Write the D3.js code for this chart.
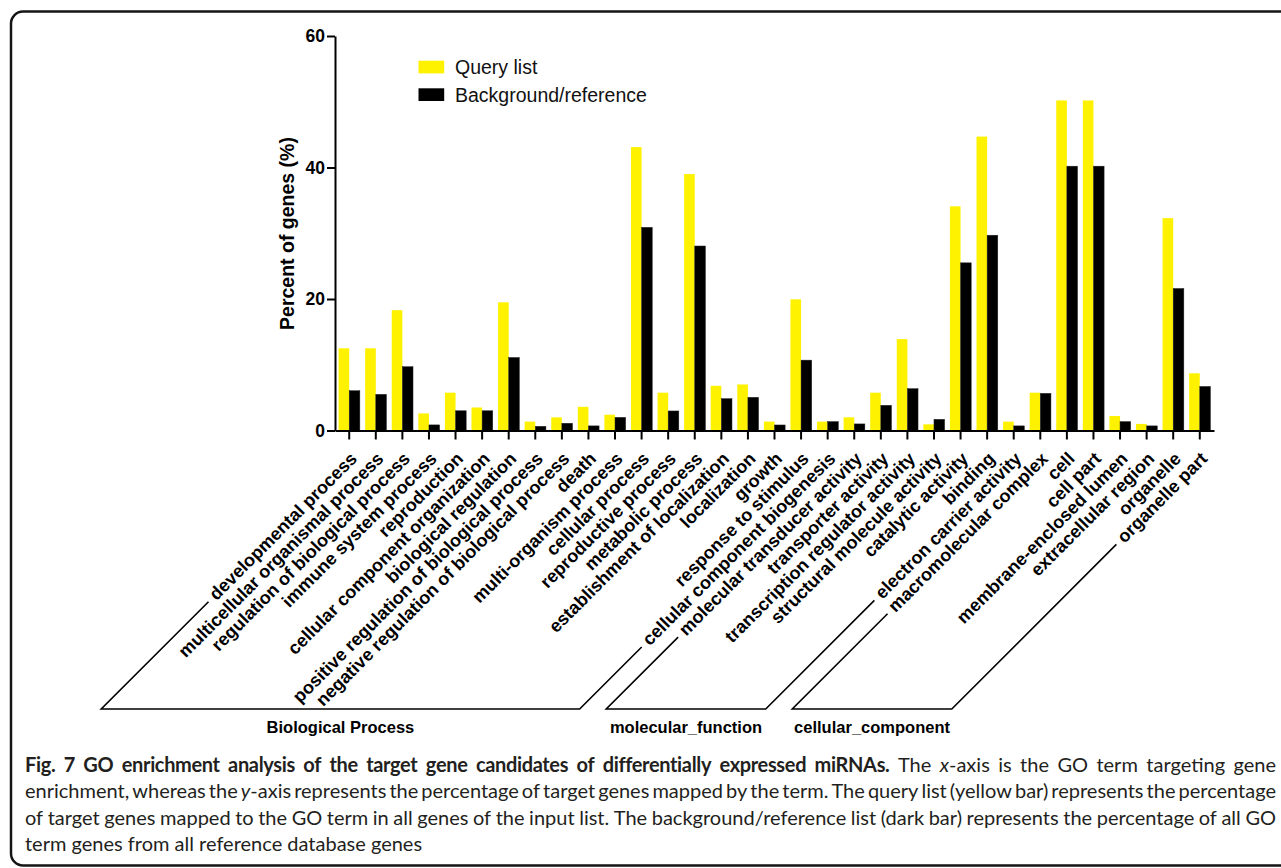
<!DOCTYPE html>
<html>
<head>
<meta charset="utf-8">
<script src="https://cdn.jsdelivr.net/npm/d3@7"></script>
<style>
  html, body { margin: 0; padding: 0; background: #fff; }
  svg { display: block; }
</style>
</head>
<body>
<svg id="fig" width="1281" height="868"></svg>
<script>
// GO terms, in plotting order
const categories = [
  "developmental process", "multicellular organismal process", "regulation of biological process",
  "immune system process", "reproduction", "cellular component organization", "biological regulation",
  "positive regulation of biological process", "negative regulation of biological process", "death",
  "multi-organism process", "cellular process", "reproductive process", "metabolic process",
  "establishment of localization", "localization", "growth", "response to stimulus",
  "cellular component biogenesis",
  "molecular transducer activity", "transporter activity", "transcription regulator activity",
  "structural molecule activity", "catalytic activity", "binding", "electron carrier activity",
  "macromolecular complex", "cell", "cell part", "membrane-enclosed lumen", "extracellular region",
  "organelle", "organelle part"
];

// Percent of genes (%) per term
const queryList = [
  12.5, 12.5, 18.3, 2.6, 5.75, 3.5, 19.5, 1.35, 2.0, 3.6, 2.4, 43.1, 5.75, 39.0, 6.8, 7.0, 1.35, 19.95, 1.35,
  2.0, 5.75, 13.9, 0.94, 34.1, 44.7, 1.35,
  5.75, 50.2, 50.2, 2.2, 1.0, 32.3, 8.7
];
const backgroundList = [
  6.05, 5.5, 9.7, 0.85, 3.0, 3.0, 11.1, 0.64, 1.1, 0.7, 2.0, 30.9, 2.97, 28.06, 4.84, 5.05, 0.84, 10.7, 1.35,
  1.0, 3.83, 6.36, 1.7, 25.5, 29.7, 0.7,
  5.65, 40.2, 40.2, 1.35, 0.7, 21.6, 6.7
];

const seriesNames = ["Query list", "Background/reference"];
const seriesColors = ["#fff200", "#000000"];
const yTicks = [0, 20, 40, 60];
const yTitle = "Percent of genes (%)";

// GO namespaces: name and first/last term index
const groupNames = ["Biological Process", "molecular_function", "cellular_component"];
const groupFirst = [0, 19, 26];
const groupLast = [18, 25, 32];

const captionLines = [
  "**Fig. 7 GO enrichment analysis of the target gene candidates of differentially expressed miRNAs.** The _x_-axis is the GO term targeting gene",
  "enrichment, whereas the _y_-axis represents the percentage of target genes mapped by the term. The query list (yellow bar) represents the percentage",
  "of target genes mapped to the GO term in all genes of the input list. The background/reference list (dark bar) represents the percentage of all GO",
  "term genes from all reference database genes"
];

const ARIAL = "'Liberation Sans', Arial, Helvetica, sans-serif";
const CAPTION_FONT = "Lato, 'Open Sans', sans-serif";

const svg = d3.select("#fig");

// outer frame (right edge runs off the page)
svg.append("rect")
  .attr("x", 11).attr("y", 11.5)
  .attr("width", 1300).attr("height", 854)
  .attr("rx", 12).attr("ry", 12)
  .attr("fill", "none").attr("stroke", "#151515").attr("stroke-width", 2.5);

// plot geometry
const xLeft = 335, xRight = 1214, yBase = 430.5, yTop = 36;
const labelDX = 5, labelY = 456, bracketY = 709;

const x = d3.scaleBand().domain(categories).range([xLeft, xRight])
  .paddingInner(0.2).paddingOuter(0.135);
const xs = d3.scaleBand().domain(seriesNames).range([0, x.bandwidth()]);
const y = d3.scaleLinear().domain([0, 60]).range([yBase, yTop]);

// bars
const rows = categories.map((c, i) => ({ c, vals: [queryList[i], backgroundList[i]] }));
svg.append("g").selectAll("g").data(rows).join("g")
  .attr("transform", d => `translate(${x(d.c)},0)`)
  .selectAll("rect").data(d => d.vals.map((v, j) => ({ v, j }))).join("rect")
  .attr("x", d => xs(seriesNames[d.j]))
  .attr("width", xs.bandwidth())
  .attr("y", d => y(d.v))
  .attr("height", d => yBase - y(d.v))
  .attr("fill", d => seriesColors[d.j])
  .attr("stroke", d => d.j === 1 ? "#222" : "none")
  .attr("stroke-width", 0.5);

// y axis
const yAxis = svg.append("g").attr("transform", `translate(${xLeft},0)`)
  .call(d3.axisLeft(y).tickValues(yTicks).tickSize(8).tickSizeOuter(0).tickPadding(2));
yAxis.select(".domain").attr("stroke", "#000").attr("stroke-width", 2);
yAxis.selectAll(".tick line").attr("stroke", "#000").attr("stroke-width", 2);
yAxis.selectAll(".tick text")
  .attr("font-family", ARIAL).attr("font-weight", "bold").attr("font-size", 17.5).attr("fill", "#000");

// x axis (ticks only, labels drawn rotated below)
const xAxis = svg.append("g").attr("transform", `translate(0,${yBase})`)
  .call(d3.axisBottom(x).tickSize(9).tickSizeOuter(0).tickFormat(() => ""));
xAxis.select(".domain").attr("stroke", "#000").attr("stroke-width", 2);
xAxis.selectAll(".tick line").attr("stroke", "#000").attr("stroke-width", 2);

// y title
svg.append("text")
  .attr("transform", `translate(294,233.5) rotate(-90)`)
  .attr("text-anchor", "middle")
  .attr("font-family", ARIAL).attr("font-weight", "bold").attr("font-size", 19.5)
  .text(yTitle);

// rotated category labels
const tickX = c => x(c) + x.bandwidth() / 2;
const labels = svg.append("g").selectAll("text").data(categories).join("text")
  .attr("transform", d => `translate(${tickX(d) + labelDX},${labelY}) rotate(-45)`)
  .attr("text-anchor", "end")
  .attr("dy", "0.3em")
  .attr("font-family", ARIAL).attr("font-weight", "bold").attr("font-size", 18)
  .attr("fill", "#000")
  .text(d => d);
const labelNodes = labels.nodes();

// namespace brackets: slanted arms follow the first and last label of each group
const c45 = Math.SQRT1_2;
function arm(i) {
  const ax = tickX(categories[i]) + labelDX;
  const L = labelNodes[i].getComputedTextLength() + 6;
  return {
    top: [ax - c45 * L, labelY + c45 * L],
    bottom: [ax - (bracketY - labelY), bracketY]
  };
}
const brackets = svg.append("g");
groupNames.forEach((name, gi) => {
  const a = arm(groupFirst[gi]);
  const b = arm(groupLast[gi]);
  const p = d3.path();
  p.moveTo(...a.top); p.lineTo(...a.bottom); p.lineTo(...b.bottom); p.lineTo(...b.top);
  brackets.append("path").attr("d", p.toString())
    .attr("fill", "none").attr("stroke", "#000").attr("stroke-width", 1.6);
  brackets.append("text")
    .attr("x", (a.bottom[0] + b.bottom[0]) / 2).attr("y", 733)
    .attr("text-anchor", "middle")
    .attr("font-family", ARIAL).attr("font-weight", "bold").attr("font-size", 16.5)
    .text(name);
});

// legend
const legend = svg.append("g");
seriesNames.forEach((s, j) => {
  const ly = 60.7 + j * 27.6;
  legend.append("rect").attr("x", 418.5).attr("y", ly).attr("width", 25.7).attr("height", 12.7)
    .attr("fill", seriesColors[j]);
  legend.append("text").attr("x", 455).attr("y", ly + 13.3)
    .attr("font-family", ARIAL).attr("font-size", 19.5).attr("fill", "#111")
    .text(s);
});

// caption: **bold** and _italic_ runs, first three lines justified
function parseRuns(line) {
  const runs = []; const re = /(\*\*[^*]+\*\*|_[^_]+_)/g; let last = 0, m;
  while ((m = re.exec(line))) {
    if (m.index > last) runs.push({ t: line.slice(last, m.index) });
    const s = m[0];
    if (s.startsWith("**")) runs.push({ t: s.slice(2, -2), b: true });
    else runs.push({ t: s.slice(1, -1), i: true });
    last = re.lastIndex;
  }
  if (last < line.length) runs.push({ t: line.slice(last) });
  return runs;
}
function toWords(runs) {
  const words = []; let cur = [];
  runs.forEach(r => {
    const parts = r.t.split(" ");
    parts.forEach((p, k) => {
      if (k > 0) { if (cur.length) words.push(cur); cur = []; }
      if (p.length) cur.push({ t: p, b: r.b, i: r.i });
    });
  });
  if (cur.length) words.push(cur);
  return words;
}
const capSize = 20, capLeft = 25, capRight = 1276;
const capBase = [771.5, 798, 824.7, 851.4];
const cap = svg.append("g").attr("font-family", CAPTION_FONT).attr("font-size", capSize).attr("fill", "#231f20");
const spaceProbe = cap.append("text").text("a a");
const noSpace = cap.append("text").text("aa");
const spaceW = spaceProbe.node().getComputedTextLength() - noSpace.node().getComputedTextLength();
spaceProbe.remove(); noSpace.remove();

captionLines.forEach((line, li) => {
  const words = toWords(parseRuns(line));
  const nodes = words.map(w => {
    const t = cap.append("text").attr("y", capBase[li]);
    w.forEach(piece => {
      t.append("tspan")
        .attr("font-weight", piece.b ? "bold" : null)
        .attr("font-style", piece.i ? "italic" : null)
        .attr("letter-spacing", piece.b ? -0.35 : null)
        .text(piece.t);
    });
    return t;
  });
  const widths = nodes.map(n => n.node().getComputedTextLength());
  const total = d3.sum(widths);
  const justify = li < captionLines.length - 1;
  const gap = justify ? Math.max(2, (capRight - capLeft - total) / (words.length - 1)) : spaceW;
  let cx = capLeft;
  nodes.forEach((n, k) => { n.attr("x", cx); cx += widths[k] + gap; });
});
</script>
</body>
</html>
